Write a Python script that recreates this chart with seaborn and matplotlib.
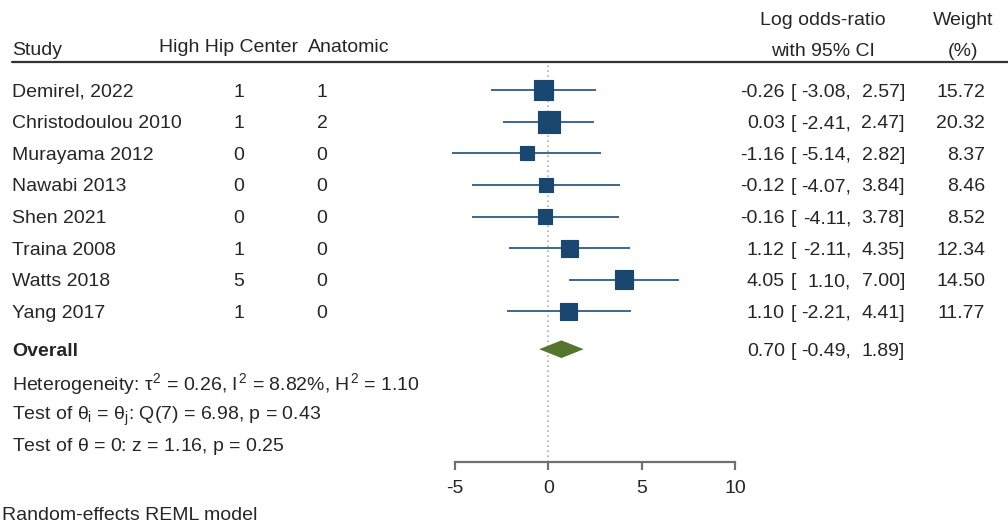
import numpy as np
import pandas as pd
import seaborn as sns
from matplotlib import pyplot as plt
from matplotlib import transforms
from matplotlib.lines import Line2D

studies = [
    "Demirel, 2022",
    "Christodoulou 2010",
    "Murayama 2012",
    "Nawabi 2013",
    "Shen 2021",
    "Traina 2008",
    "Watts 2018",
    "Yang 2017",
]
high_hip = [1, 1, 0, 0, 0, 1, 5, 1]
anatomic = [1, 2, 0, 0, 0, 0, 0, 0]
log_or = [-0.26, 0.03, -1.16, -0.12, -0.16, 1.12, 4.05, 1.10]
ci_low = [-3.08, -2.41, -5.14, -4.07, -4.11, -2.11, 1.10, -2.21]
ci_high = [2.57, 2.47, 2.82, 3.84, 3.78, 4.35, 7.00, 4.41]
weights = [15.72, 20.32, 8.37, 8.46, 8.52, 12.34, 14.50, 11.77]

overall_est = 0.70
overall_low = -0.49
overall_high = 1.89

het_lines = [
    r"Heterogeneity: $\tau^2$ = 0.26, $I^2$ = 8.82%, $H^2$ = 1.10",
    r"Test of $\theta_i$ = $\theta_j$: Q(7) = 6.98, p = 0.43",
    r"Test of $\theta$ = 0: z = 1.16, p = 0.25",
]
x_ticks = [-5, 0, 5, 10]

NAVY = "#1a476f"
CI_COL = "#3e6690"
GREEN = "#55752f"
FS = 14

sns.set_style("white")
plt.rcParams["font.family"] = ["Liberation Sans", "DejaVu Sans"]
plt.rcParams["mathtext.fontset"] = "custom"
plt.rcParams["mathtext.rm"] = "Liberation Sans"
plt.rcParams["mathtext.it"] = "Liberation Sans"
plt.rcParams["mathtext.bf"] = "Liberation Sans:bold"

df = pd.DataFrame(
    {
        "study": studies,
        "row": np.arange(len(studies)),
        "est": log_or,
        "lo": ci_low,
        "hi": ci_high,
        "weight": weights,
    }
)
overall_row = 8.2
het_rows = [9.2, 10.2, 11.2]

W, H = 1008, 531
fig = plt.figure(figsize=(W / 100, H / 100), dpi=100)
ax = fig.add_axes([455 / W, (H - 462) / H, 280 / W, 400 / H])
ax.set_xlim(-5, 10)
ax.set_ylim(11.77, -0.89)

ax.axvline(0, color="#b0b0b0", ls=(0, (1, 2)), lw=1.2, zorder=0)
ax.hlines(df.row, df.lo, df.hi, color=CI_COL, lw=1.4, clip_on=False, zorder=2)
w = np.array(weights)
sns.scatterplot(
    data=df,
    x="est",
    y="row",
    size="weight",
    sizes=(12.4 * w.min(), 12.4 * w.max()),
    marker="s",
    color=NAVY,
    edgecolor=NAVY,
    legend=False,
    ax=ax,
    zorder=3,
    clip_on=False,
)
dh = 0.28
ax.fill(
    [overall_low, overall_est, overall_high, overall_est],
    [overall_row, overall_row - dh, overall_row, overall_row + dh],
    color=GREEN,
    lw=0,
    zorder=3,
)

sns.despine(ax=ax, left=True, top=True, right=True)
ax.set_yticks([])
ax.set_xticks(x_ticks)
ax.set_xticklabels([str(t) for t in x_ticks], fontsize=FS)
ax.spines["bottom"].set_color("#707070")
ax.spines["bottom"].set_linewidth(1.6)
ax.tick_params(axis="x", bottom=True, direction="out", length=6, width=1.6,
               color="#707070", pad=7)
ax.set_xlabel("")
ax.set_ylabel("")

tr = transforms.blended_transform_factory(fig.transFigure, ax.transData)
VA = "center_baseline"


def px(x):
    return x / W


def put(x, y, s, **kw):
    ax.text(px(x), y, s, transform=tr, fontsize=FS, va=VA, **kw)


# header
put(12, -1.33, "Study")
put(298, -1.42, "High Hip Center", ha="right")
put(308, -1.42, "Anatomic")
put(823, -2.28, "Log odds-ratio", ha="center")
put(823, -1.27, "with 95% CI", ha="center")
put(963, -2.28, "Weight", ha="center")
put(963, -1.27, "(%)", ha="center")
fig.add_artist(
    Line2D([px(12), 1.0], [(H - 62) / H] * 2, transform=fig.transFigure, color="#333333", lw=1.6)
)

for r in df.itertuples():
    y = r.row
    put(12, y, r.study)
    put(239, y, str(high_hip[r.Index]), ha="center")
    put(322, y, str(anatomic[r.Index]), ha="center")
    put(785, y, f"{r.est:.2f}", ha="right")
    put(791, y, "[", ha="left")
    put(851, y, f"{r.lo:.2f},", ha="right")
    put(905, y, f"{r.hi:.2f}]", ha="right")
    put(985, y, f"{r.weight:.2f}", ha="right")

put(12, overall_row, "Overall", fontweight="bold")
put(785, overall_row, f"{overall_est:.2f}", ha="right")
put(791, overall_row, "[", ha="left")
put(851, overall_row, f"{overall_low:.2f},", ha="right")
put(905, overall_row, f"{overall_high:.2f}]", ha="right")

for y, s in zip(het_rows, het_lines):
    put(12, y, s)

fig.text(px(2), (H - 516) / H, "Random-effects REML model", fontsize=FS, va="center")

plt.savefig("out.png", dpi=100)
